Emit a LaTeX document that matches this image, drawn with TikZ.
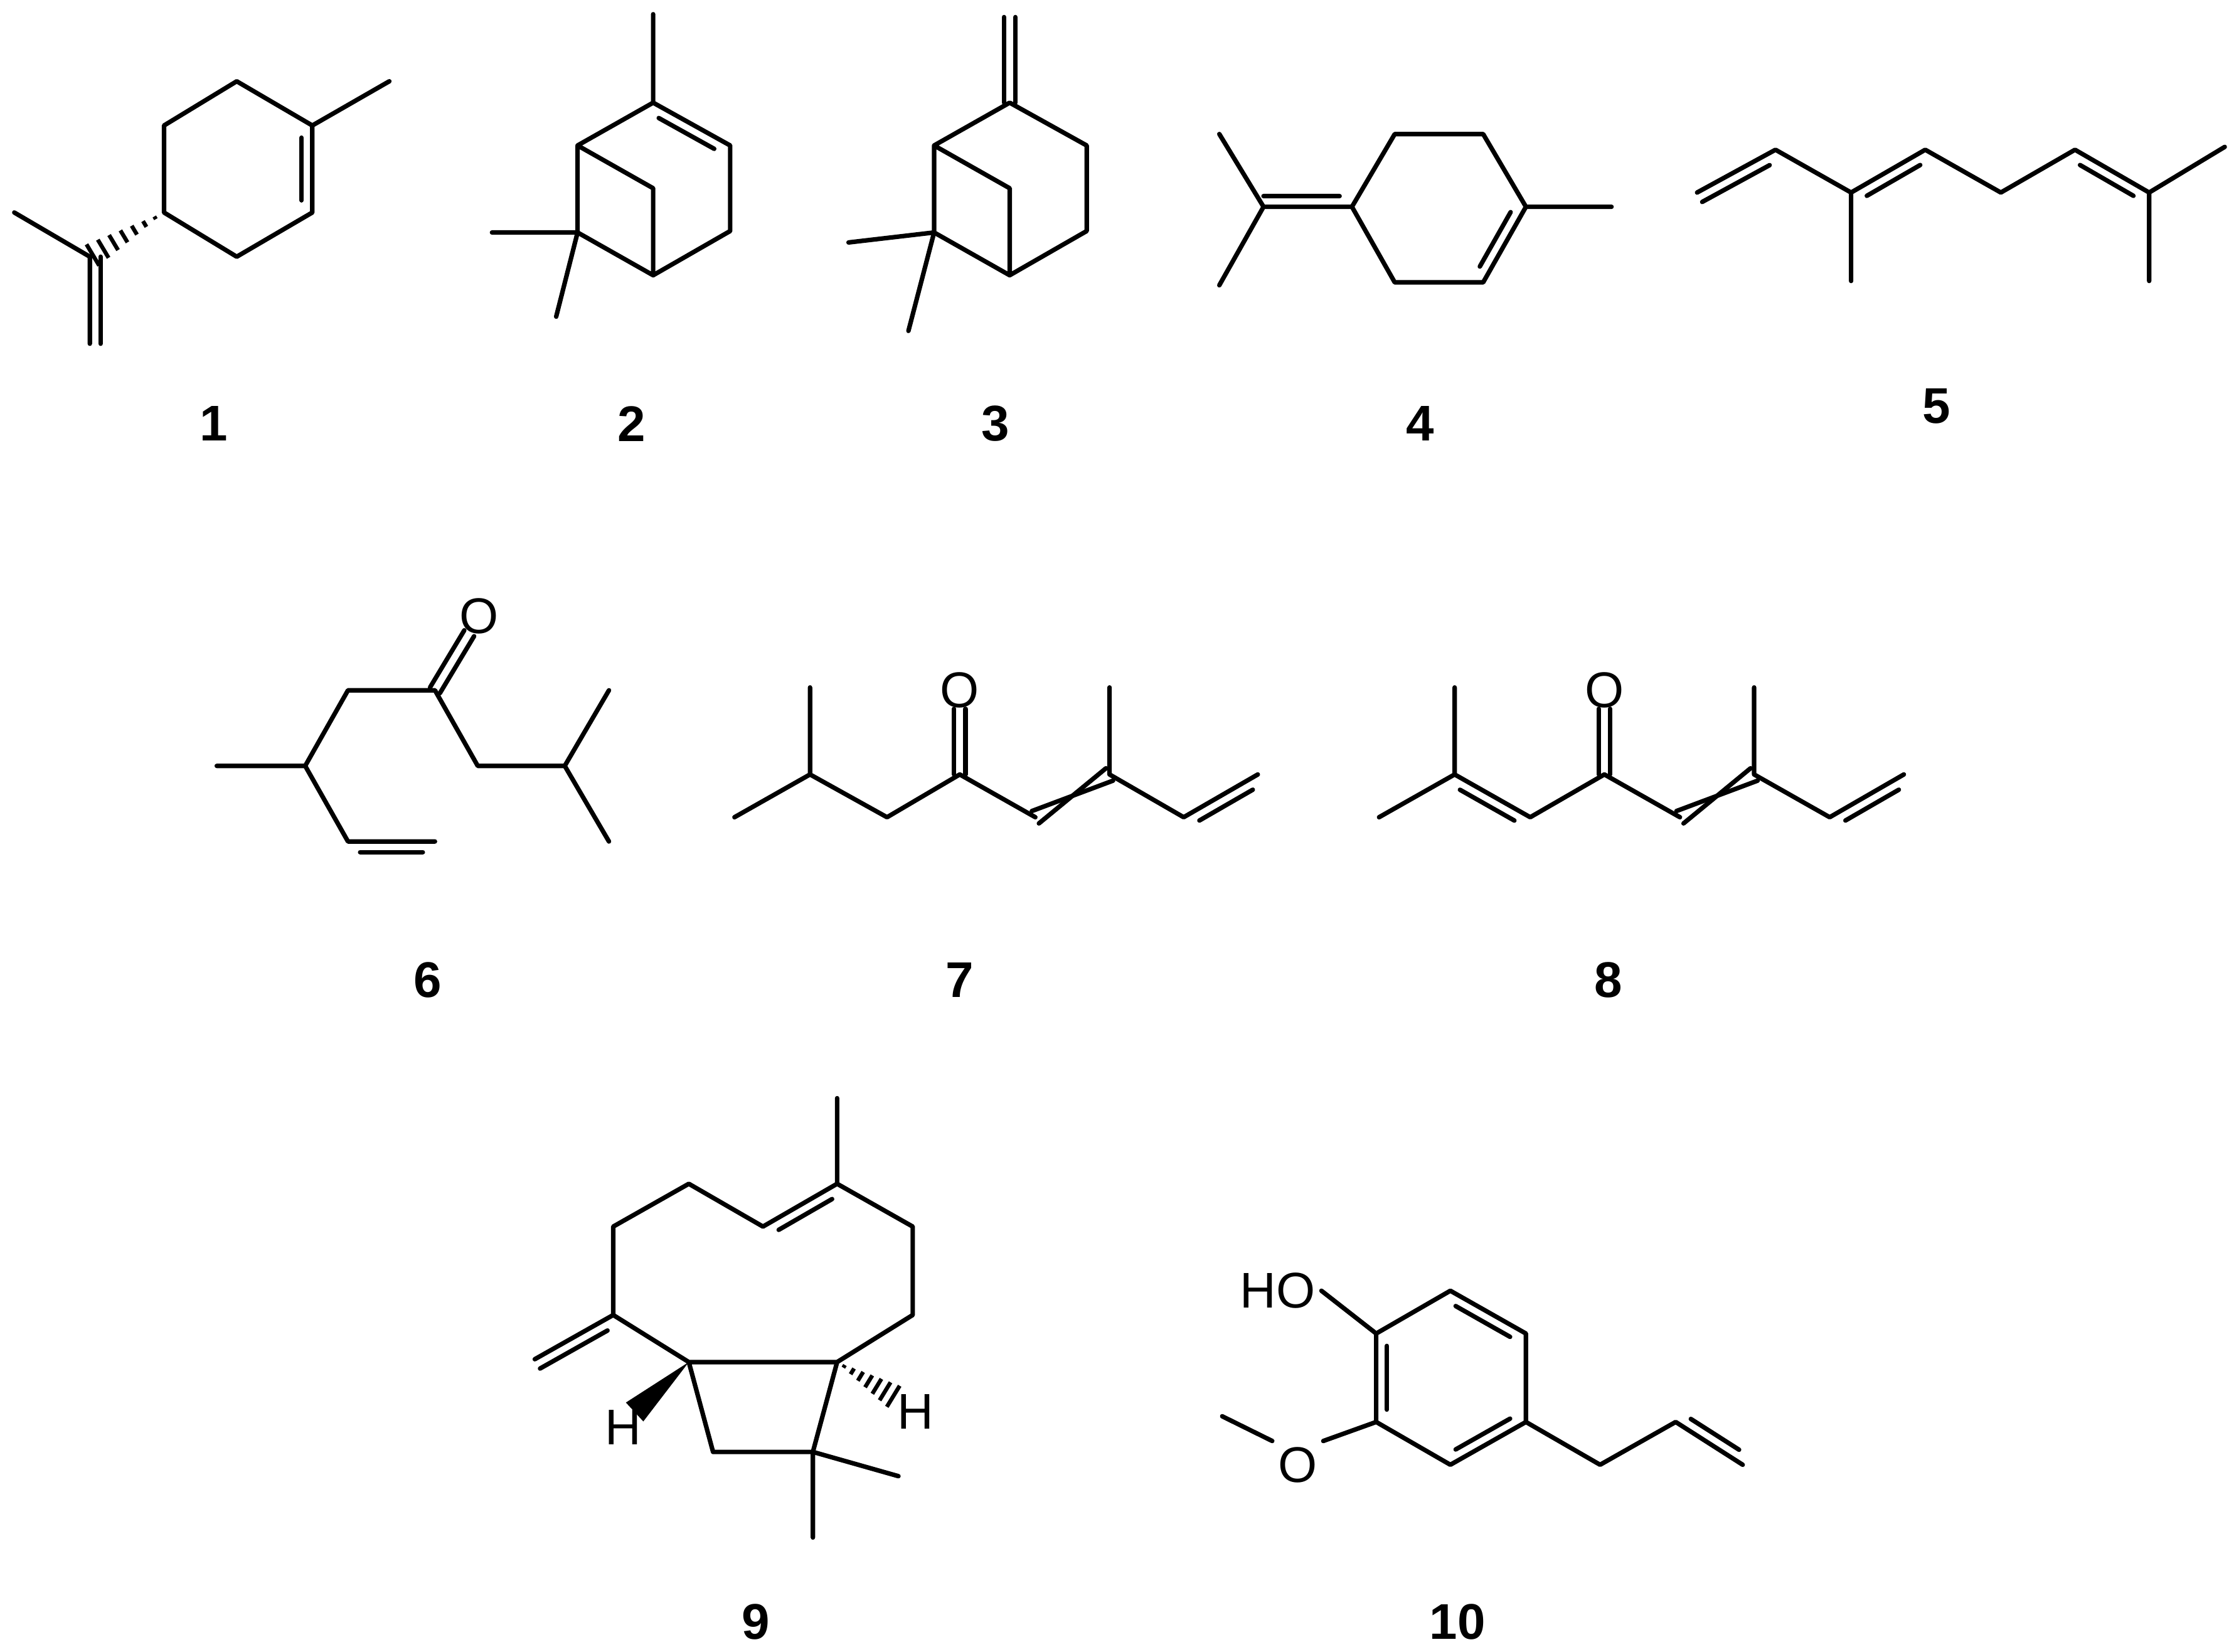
\documentclass[tikz,border=0pt]{standalone}
\usepackage{fontspec}
\setmainfont{Liberation Sans}
\usetikzlibrary{calc}
\tikzset{bd/.style={line width=0.9pt,line cap=round,line join=round},
 lab/.style={font=\fontsize{10}{12}\selectfont\bfseries},
 atm/.style={font=\fontsize{10}{12}\selectfont,inner sep=1pt}}
% inner double bond line: side 90 or -90
\newcommand\dbl[3]{\draw[bd] ($(#1)!0.14!(#2)!0.075cm!#3:(#2)$) -- ($(#2)!0.14!(#1)!0.075cm!-#3:(#1)$);}
% centered double bond
\newcommand\dblc[2]{\draw[bd] ($(#1)!0.04cm!90:(#2)$) -- ($(#2)!0.04cm!-90:(#1)$);
 \draw[bd] ($(#1)!0.04cm!-90:(#2)$) -- ($(#2)!0.04cm!90:(#1)$);}
% crossed double bond
\newcommand\crossb[2]{\draw[bd] ($(#1)!0.05cm!90:(#2)$) -- ($(#2)!0.05cm!90:(#1)$);
 \draw[bd] ($(#1)!0.05cm!-90:(#2)$) -- ($(#2)!0.05cm!-90:(#1)$);}
\newcommand\hashb[2]{\foreach \t in {0.12,0.26,...,0.99}{\draw[line width=0.8pt] ($(#1)!\t!(#2)!\t*0.09cm!90:(#2)$) -- ($(#1)!\t!(#2)!\t*0.09cm!-90:(#2)$);}}
\newcommand\wedgeb[2]{\fill ($(#1)$) -- ($(#2)!0.09cm!90:(#1)$) -- ($(#2)!0.09cm!-90:(#1)$) -- cycle;}
\begin{document}
\begin{tikzpicture}[x=0.01cm,y=-0.01cm]
\useasboundingbox (0,0) rectangle (1563,1158);
% ---------- 1
\coordinate (a1) at (166,57); \coordinate (a2) at (219,88); \coordinate (a3) at (219,149);
\coordinate (a4) at (166,180); \coordinate (a5) at (115,149); \coordinate (a6) at (115,88);
\coordinate (am) at (273,57); \coordinate (ai) at (63,180); \coordinate (aim) at (10,149); \coordinate (aic) at (63,241);
\draw[bd] (a1)--(a2)--(a3)--(a4)--(a5)--(a6)--cycle (a2)--(am) (ai)--(aim) (ai)--(aic);
\dbl{a2}{a3}{-90}
\draw[bd] ($(ai)!0.075cm!90:(aic)$) -- ($(aic)!0.075cm!-90:(ai)$);
\hashb{a5}{ai}
\node[lab] (l1) at (150,297) {1};
% ---------- 2 and 3
\foreach \dx/\n in {0/2,250/3}{
\begin{scope}[xshift=\dx*0.01cm]
\coordinate (b1) at (458,72); \coordinate (b2) at (512,102); \coordinate (b3) at (512,162);
\coordinate (b4) at (458,193); \coordinate (b5) at (405,163); \coordinate (b6) at (405,102);
\coordinate (b7) at (458,132);
\draw[bd] (b1)--(b2)--(b3)--(b4)--(b5)--(b6)--cycle (b6)--(b7)--(b4);
\end{scope}}
\coordinate (m2a) at (458,10); \coordinate (m2b) at (345,163); \coordinate (m2c) at (390,222);
\draw[bd] (458,72)--(m2a) (405,163)--(m2b) (405,163)--(m2c);
\coordinate (c2a) at (458,72); \coordinate (c2b) at (512,102);
\dbl{c2a}{c2b}{-90}
\coordinate (c3a) at (708,72); \coordinate (c3b) at (708,12);
\dblc{c3a}{c3b}
\coordinate (m3b) at (595,170); \coordinate (m3c) at (637,232);
\draw[bd] (655,163)--(m3b) (655,163)--(m3c);
\node[lab] (l2) at (443,297) {2};
\node[lab] (l3) at (698,297) {3};
% ---------- 4
\coordinate (d1) at (948,145); \coordinate (d2) at (978,94); \coordinate (d3) at (1040,94);
\coordinate (d4) at (1070,145); \coordinate (d5) at (1040,198); \coordinate (d6) at (978,198);
\coordinate (dm) at (1130,145); \coordinate (dc) at (886,145); \coordinate (dx1) at (855,94); \coordinate (dx2) at (855,200);
\draw[bd] (d1)--(d2)--(d3)--(d4)--(d5)--(d6)--cycle (d4)--(dm) (d1)--(dc) (dc)--(dx1) (dc)--(dx2);
\dbl{d4}{d5}{-90}
\draw[bd] ($(d1)!0.14!(dc)!0.075cm!-90:(dc)$) -- ($(dc)!0.075cm!90:(d1)$);
\node[lab] (l4) at (996,297) {4};
% ---------- 5
\coordinate (e1) at (1190,135); \coordinate (e2) at (1245,105); \coordinate (e3) at (1298,135);
\coordinate (e4) at (1298,197); \coordinate (e5) at (1350,105); \coordinate (e6) at (1403,135);
\coordinate (e7) at (1455,105); \coordinate (e8) at (1507,135); \coordinate (e9) at (1560,103); \coordinate (e10) at (1507,197);
\draw[bd] (e1)--(e2)--(e3)--(e5)--(e6)--(e7)--(e8)--(e9) (e3)--(e4) (e8)--(e10);
\draw[bd] ($(e1)!0.075cm!-90:(e2)$) -- ($(e2)!0.14!(e1)!0.075cm!90:(e1)$);
\dbl{e3}{e5}{-90}
\dbl{e7}{e8}{-90}
\node[lab] (l5) at (1358,285) {5};
% ---------- 6
\coordinate (f1) at (152,537); \coordinate (f2) at (214,537); \coordinate (f3) at (244,484);
\coordinate (f4) at (305,484); \coordinate (fo) at (329,444); \coordinate (f5) at (335,537);
\coordinate (f6) at (396,537); \coordinate (f7) at (427,484); \coordinate (f8) at (427,590);
\coordinate (f9) at (244,590); \coordinate (f10) at (305,590);
\draw[bd] (f1)--(f2)--(f3)--(f4)--(f5)--(f6)--(f7) (f6)--(f8) (f2)--(f9)--(f10);
\dblc{f4}{fo}
\dbl{f9}{f10}{-90}
\node[atm] (o6) at (336,432) {O};
\node[lab] (l6) at (300,687) {6};
% ---------- 7
\coordinate (g1) at (515,573); \coordinate (g2) at (568,543); \coordinate (g3) at (568,482);
\coordinate (g4) at (622,573); \coordinate (g5) at (673,543); \coordinate (go) at (673,497);
\coordinate (g6) at (726,573); \coordinate (g7) at (778,543); \coordinate (g8) at (778,482);
\coordinate (g9) at (830,573); \coordinate (g10) at (882,543);
\draw[bd] (g1)--(g2)--(g4)--(g5)--(g6) (g2)--(g3) (g7)--(g8) (g7)--(g9)--(g10);
\dblc{g5}{go}
\crossb{g6}{g7}
\dbl{g9}{g10}{-90}
\node[atm] (o7) at (673,484) {O};
\node[lab] (l7) at (673,687) {7};
% ---------- 8
\coordinate (h1) at (967,573); \coordinate (h2) at (1020,543); \coordinate (h3) at (1020,482);
\coordinate (h4) at (1073,573); \coordinate (h5) at (1125,543); \coordinate (ho) at (1125,497);
\coordinate (h6) at (1178,573); \coordinate (h7) at (1230,543); \coordinate (h8) at (1230,482);
\coordinate (h9) at (1283,573); \coordinate (h10) at (1335,543);
\draw[bd] (h1)--(h2)--(h4)--(h5)--(h6) (h2)--(h3) (h7)--(h8) (h7)--(h9)--(h10);
\dbl{h2}{h4}{-90}
\dblc{h5}{ho}
\crossb{h6}{h7}
\dbl{h9}{h10}{-90}
\node[atm] (o8) at (1125,484) {O};
\node[lab] (l8) at (1128,687) {8};
% ---------- 9
\coordinate (k0) at (587,770); \coordinate (k1) at (587,830); \coordinate (k2) at (535,860);
\coordinate (k3) at (483,830); \coordinate (k4) at (430,860); \coordinate (k5) at (430,922);
\coordinate (kx) at (375,953); \coordinate (k6) at (483,955); \coordinate (k7) at (587,955);
\coordinate (k8) at (500,1018); \coordinate (k9) at (570,1018); \coordinate (km1) at (630,1035);
\coordinate (km2) at (570,1078); \coordinate (k10) at (640,922); \coordinate (k11) at (640,860);
\coordinate (kh1) at (445,990); \coordinate (kh2) at (628,980);
\draw[bd] (k0)--(k1)--(k2)--(k3)--(k4)--(k5)--(k6)--(k7)--(k10)--(k11)--(k1)
 (k5)--(kx) (k6)--(k8)--(k9)--(k7) (k9)--(km1) (k9)--(km2);
\dbl{k1}{k2}{90}
\draw[bd] ($(k5)!0.14!(kx)!0.075cm!90:(kx)$) -- ($(kx)!0.075cm!-90:(k5)$);
\wedgeb{k6}{kh1}
\hashb{k7}{kh2}
\node[atm] (h9a) at (437,1001) {H};
\node[atm] (h9b) at (642,990) {H};
\node[lab] (l9) at (530,1137) {9};
% ---------- 10
\coordinate (r1) at (965,935); \coordinate (r2) at (1017,905); \coordinate (r3) at (1070,935);
\coordinate (r4) at (1070,997); \coordinate (r5) at (1017,1027); \coordinate (r6) at (965,997);
\coordinate (s1) at (1122,1027); \coordinate (s2) at (1175,997); \coordinate (s3) at (1222,1027);
\coordinate (sm) at (857,993);
\node[atm] (ho10) at (896,905) {HO};
\node[atm] (om10) at (910,1027) {O};
\draw[bd] (r1)--(r2)--(r3)--(r4)--(r5)--(r6)--cycle (r4)--(s1)--(s2)--(s3)
 (r1)--(ho10.east) (r6)--(om10.north east) (om10.north west)--(sm);
\dbl{r2}{r3}{-90}
\dbl{r4}{r5}{-90}
\dbl{r6}{r1}{-90}
\dbl{s2}{s3}{90}
\node[lab] (l10) at (1022,1137) {10};
\end{tikzpicture}
\end{document}
